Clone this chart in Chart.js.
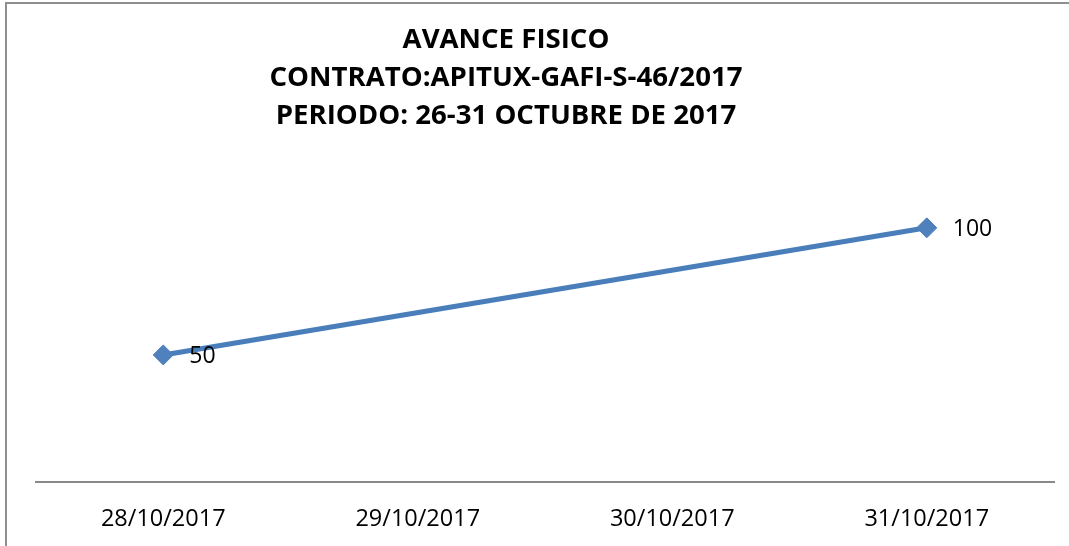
<!DOCTYPE html>
<html>
<head>
<meta charset="utf-8">
<script src="https://cdn.jsdelivr.net/npm/chart.js@4/dist/chart.umd.min.js"></script>
<style>
  html, body { margin: 0; padding: 0; background: #fff; }
  #wrap { position: relative; width: 1069px; height: 546px; overflow: hidden; }
  #frame { position: absolute; left: 5px; top: 2px; width: 2000px; height: 2000px;
           border-left: 2px solid #8f8f8f; border-top: 2px solid #8f8f8f; }
  #title { position: absolute; left: 0; width: 1012px; top: 18px; text-align: center;
           font-family: "Open Sans", sans-serif; font-weight: bold; font-size: 27.6px;
           line-height: 38px; color: #000; }
  canvas { position: absolute; left: 0; top: 0; }
</style>
</head>
<body>
<div id="wrap">
  <div id="frame"></div>
  <canvas id="c" width="1069" height="546"></canvas>
  <div id="title">AVANCE FISICO<br>CONTRATO:APITUX-GAFI-S-46/2017<br>PERIODO: 26-31 OCTUBRE DE 2017</div>
</div>
<script>
const categories = ["28/10/2017", "29/10/2017", "30/10/2017", "31/10/2017"];
const avance = [50, null, null, 100];

const pointLabels = {
  id: 'pointLabels',
  afterDatasetsDraw(chart) {
    const ctx = chart.ctx;
    const meta = chart.getDatasetMeta(0);
    ctx.save();
    ctx.font = '23px "Open Sans", sans-serif';
    ctx.fillStyle = '#000';
    ctx.textAlign = 'left';
    ctx.textBaseline = 'middle';
    meta.data.forEach((pt, i) => {
      const v = chart.data.datasets[0].data[i];
      if (v === null || v === undefined) return;
      ctx.fillText(String(v), pt.x + 26, pt.y + 2);
    });
    ctx.restore();
  }
};

new Chart(document.getElementById('c'), {
  type: 'line',
  data: {
    labels: categories,
    datasets: [{
      data: avance,
      borderColor: '#4A7EBB',
      backgroundColor: '#4A7EBB',
      borderWidth: 5,
      pointStyle: 'rectRot',
      pointRadius: 10,
      pointBorderWidth: 1,
      pointBorderColor: '#4A7EBB',
      pointBackgroundColor: '#4F81BD',
      spanGaps: true,
      tension: 0
    }]
  },
  options: {
    responsive: false,
    animation: false,
    events: [],
    layout: { padding: { left: 36, right: 15, top: 177, bottom: 0 } },
    plugins: { legend: { display: false }, title: { display: false }, tooltip: { enabled: false } },
    scales: {
      x: {
        offset: true,
        grid: { display: false, drawTicks: false },
        border: { display: true, color: '#898989', width: 2 },
        ticks: { color: '#000', font: { family: '"Open Sans", sans-serif', size: 23.5 }, padding: 23, maxRotation: 0 },
        afterFit(scale) { scale.height = 64; }
      },
      y: {
        display: false,
        min: 0,
        max: 120
      }
    }
  },
  plugins: [pointLabels]
});
</script>
</body>
</html>
